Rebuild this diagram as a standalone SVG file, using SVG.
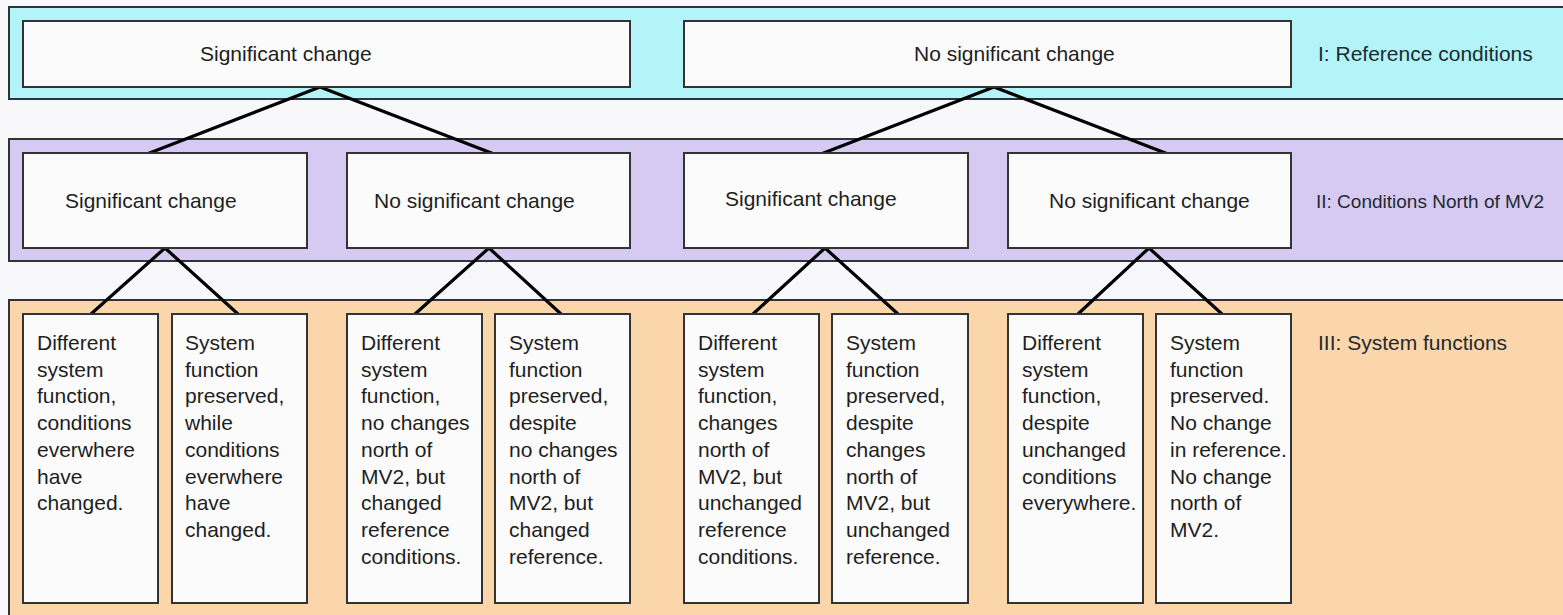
<svg xmlns="http://www.w3.org/2000/svg" width="1563" height="615" viewBox="0 0 1563 615">
<style>
.band{stroke:#2e3436;stroke-width:2}
.b1{fill:#b2f4f8}.b2{fill:#d6caf2}.b3{fill:#fbd6ab}
.box{fill:#fbfbfb;stroke:#333;stroke-width:2}
.t{font-family:"Liberation Sans",Arial,sans-serif;font-size:21px;fill:#1e1e1e}
.s{font-family:"Liberation Sans",Arial,sans-serif;font-size:21px;fill:#1e1e1e}
.lbl{font-family:"Liberation Sans",Arial,sans-serif;font-size:21px;fill:#1c2a30}
.con{stroke:#000;stroke-width:3.2;fill:none}
</style>
<rect x="0" y="0" width="1563" height="615" fill="#f8f8fa"/>
<g id="bands">
<rect class="band b1" x="9" y="7" width="1570" height="92"/>
<rect class="band b2" x="9" y="139" width="1570" height="122"/>
<rect class="band b3" x="9" y="300" width="1570" height="330"/>
<text class="lbl" x="1318" y="61">I: Reference conditions</text>
<text class="lbl" x="1316" y="208" style="font-size:19px">II: Conditions North of MV2</text>
<text class="lbl" x="1318" y="350">III: System functions</text>
</g>
<g id="connectors">
<polyline class="con" points="147,154 320,87 494,154"/>
<polyline class="con" points="821,154 994,87 1168,154"/>
<polyline class="con" points="91,314 165,248 238,314"/>
<polyline class="con" points="415,314 489,248 561,314"/>
<polyline class="con" points="753,314 825,248 898,314"/>
<polyline class="con" points="1078,314 1149,248 1222,314"/>
</g>
<g id="top-sig"><rect class="box" x="23" y="21" width="607" height="66"/><text class="t" x="200" y="61">Significant change</text></g>
<g id="top-nosig"><rect class="box" x="684" y="21" width="607" height="66"/><text class="t" x="914" y="61">No significant change</text></g>
<g id="mid-1"><rect class="box" x="23" y="153" width="284" height="95"/><text class="t" x="65" y="208">Significant change</text></g>
<g id="mid-2"><rect class="box" x="347" y="153" width="283" height="95"/><text class="t" x="374" y="208">No significant change</text></g>
<g id="mid-3"><rect class="box" x="684" y="153" width="284" height="95"/><text class="t" x="725" y="206">Significant change</text></g>
<g id="mid-4"><rect class="box" x="1008" y="153" width="283" height="95"/><text class="t" x="1049" y="208">No significant change</text></g>
<g id="leaf-1"><rect class="box" x="23" y="314" width="135" height="289"/>
<text class="s"><tspan x="37" y="350">Different</tspan><tspan x="37" dy="26.7">system</tspan><tspan x="37" dy="26.7">function,</tspan><tspan x="37" dy="26.7">conditions</tspan><tspan x="37" dy="26.7">everwhere</tspan><tspan x="37" dy="26.7">have</tspan><tspan x="37" dy="26.7">changed.</tspan></text></g>
<g id="leaf-2"><rect class="box" x="172" y="314" width="135" height="289"/>
<text class="s"><tspan x="185" y="350">System</tspan><tspan x="185" dy="26.7">function</tspan><tspan x="185" dy="26.7">preserved,</tspan><tspan x="185" dy="26.7">while</tspan><tspan x="185" dy="26.7">conditions</tspan><tspan x="185" dy="26.7">everwhere</tspan><tspan x="185" dy="26.7">have</tspan><tspan x="185" dy="26.7">changed.</tspan></text></g>
<g id="leaf-3"><rect class="box" x="347" y="314" width="135" height="289"/>
<text class="s"><tspan x="361" y="350">Different</tspan><tspan x="361" dy="26.7">system</tspan><tspan x="361" dy="26.7">function,</tspan><tspan x="361" dy="26.7">no changes</tspan><tspan x="361" dy="26.7">north of</tspan><tspan x="361" dy="26.7">MV2, but</tspan><tspan x="361" dy="26.7">changed</tspan><tspan x="361" dy="26.7">reference</tspan><tspan x="361" dy="26.7">conditions.</tspan></text></g>
<g id="leaf-4"><rect class="box" x="495" y="314" width="135" height="289"/>
<text class="s"><tspan x="509" y="350">System</tspan><tspan x="509" dy="26.7">function</tspan><tspan x="509" dy="26.7">preserved,</tspan><tspan x="509" dy="26.7">despite</tspan><tspan x="509" dy="26.7">no changes</tspan><tspan x="509" dy="26.7">north of</tspan><tspan x="509" dy="26.7">MV2, but</tspan><tspan x="509" dy="26.7">changed</tspan><tspan x="509" dy="26.7">reference.</tspan></text></g>
<g id="leaf-5"><rect class="box" x="684" y="314" width="135" height="289"/>
<text class="s"><tspan x="698" y="350">Different</tspan><tspan x="698" dy="26.7">system</tspan><tspan x="698" dy="26.7">function,</tspan><tspan x="698" dy="26.7">changes</tspan><tspan x="698" dy="26.7">north of</tspan><tspan x="698" dy="26.7">MV2, but</tspan><tspan x="698" dy="26.7">unchanged</tspan><tspan x="698" dy="26.7">reference</tspan><tspan x="698" dy="26.7">conditions.</tspan></text></g>
<g id="leaf-6"><rect class="box" x="832" y="314" width="136" height="289"/>
<text class="s"><tspan x="846" y="350">System</tspan><tspan x="846" dy="26.7">function</tspan><tspan x="846" dy="26.7">preserved,</tspan><tspan x="846" dy="26.7">despite</tspan><tspan x="846" dy="26.7">changes</tspan><tspan x="846" dy="26.7">north of</tspan><tspan x="846" dy="26.7">MV2, but</tspan><tspan x="846" dy="26.7">unchanged</tspan><tspan x="846" dy="26.7">reference.</tspan></text></g>
<g id="leaf-7"><rect class="box" x="1008" y="314" width="135" height="289"/>
<text class="s"><tspan x="1022" y="350">Different</tspan><tspan x="1022" dy="26.7">system</tspan><tspan x="1022" dy="26.7">function,</tspan><tspan x="1022" dy="26.7">despite</tspan><tspan x="1022" dy="26.7">unchanged</tspan><tspan x="1022" dy="26.7">conditions</tspan><tspan x="1022" dy="26.7">everywhere.</tspan></text></g>
<g id="leaf-8"><rect class="box" x="1156" y="314" width="135" height="289"/>
<text class="s"><tspan x="1170" y="350">System</tspan><tspan x="1170" dy="26.7">function</tspan><tspan x="1170" dy="26.7">preserved.</tspan><tspan x="1170" dy="26.7">No change</tspan><tspan x="1170" dy="26.7">in reference.</tspan><tspan x="1170" dy="26.7">No change</tspan><tspan x="1170" dy="26.7">north of</tspan><tspan x="1170" dy="26.7">MV2.</tspan></text></g>
</svg>
